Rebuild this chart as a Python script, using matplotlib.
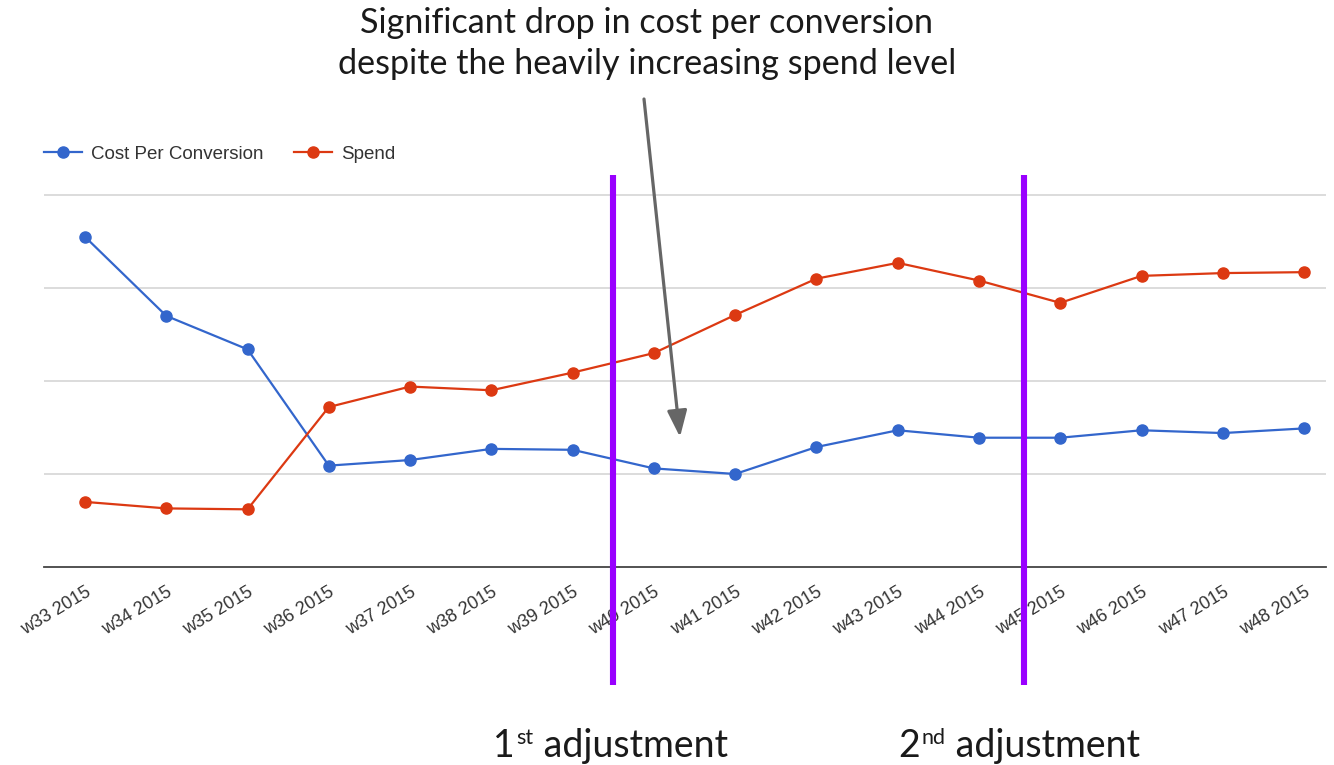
import matplotlib
matplotlib.use("Agg")
import matplotlib.pyplot as plt
import matplotlib.transforms as mtransforms

weeks = ["w33 2015", "w34 2015", "w35 2015", "w36 2015", "w37 2015", "w38 2015",
         "w39 2015", "w40 2015", "w41 2015", "w42 2015", "w43 2015", "w44 2015",
         "w45 2015", "w46 2015", "w47 2015", "w48 2015"]
cost_per_conversion = [35.5, 27.0, 23.4, 10.9, 11.5, 12.7, 12.6, 10.6,
                       10.0, 12.9, 14.7, 13.9, 13.9, 14.7, 14.4, 14.9]
spend = [7.0, 6.3, 6.2, 17.2, 19.4, 19.0, 20.9, 23.0,
         27.1, 31.0, 32.7, 30.8, 28.4, 31.3, 31.6, 31.7]
adjustments = [6.5, 11.55]
adjustment_ordinals = [("1", "st"), ("2", "nd")]
headline = "Significant drop in cost per conversion\ndespite the heavily increasing spend level"

W, H = 1334, 765
fig = plt.figure(figsize=(W / 100, H / 100), dpi=100)
ax = fig.add_axes([44 / W, 1 - 567 / H, (1326 - 44) / W, 373.9 / H])

x = list(range(len(weeks)))
blue, red = "#3366CC", "#DC3912"
ax.plot(x, cost_per_conversion, color=blue, lw=1.6, marker="o", ms=8,
        label="Cost Per Conversion", zorder=3)
ax.plot(x, spend, color=red, lw=1.6, marker="o", ms=8, label="Spend", zorder=3)

ax.set_xlim(-0.5045, 15.27)
ax.set_ylim(0, 40.2)
ax.set_yticks([10, 20, 30, 40])
ax.yaxis.grid(True, color="#d6d6d6", lw=1.2)
ax.tick_params(axis="y", length=0, labelleft=False)
for s in ["top", "right", "left"]:
    ax.spines[s].set_visible(False)
ax.spines["bottom"].set_color("#444444")
ax.spines["bottom"].set_linewidth(1.3)
ax.set_axisbelow(True)

ax.set_xticks(x)
ax.set_xticklabels(weeks, rotation=31, ha="right", va="top",
                   rotation_mode="anchor", fontsize=13,
                   family="Liberation Sans", color="#333333")
ax.tick_params(axis="x", length=0, pad=12)

leg = fig.legend(loc="center left", bbox_to_anchor=(44 / W, 1 - 154 / H),
                 ncol=2, frameon=False, borderpad=0, borderaxespad=0,
                 handlelength=2.0, handletextpad=0.5, columnspacing=1.65,
                 prop={"family": "Liberation Sans", "size": 13.5})
for t in leg.get_texts():
    t.set_color("#333333")

# vertical markers for the two campaign adjustments
trans = mtransforms.blended_transform_factory(ax.transData, fig.transFigure)
for a in adjustments:
    ax.plot([a, a], [1 - 175 / H, 1 - 685 / H], color="#9900FF", lw=4.4,
            transform=trans, clip_on=False, zorder=4, solid_capstyle="butt")

font = ["Lato", "DejaVu Sans"]
ink = "#1a1a1a"
fig.text(647 / W, 1 - 43.5 / H, headline, ha="center", va="center",
         fontsize=24.6, family=font, color=ink, linespacing=1.33)

ax.annotate("", xy=(680 / W, 1 - 437 / H), xycoords="figure fraction",
            xytext=(644 / W, 1 - 99 / H), textcoords="figure fraction",
            arrowprops=dict(arrowstyle="-|>,head_length=1.6,head_width=0.6",
                            color="#666666", lw=2.3, shrinkA=0, shrinkB=0,
                            mutation_scale=10))

# "1st adjustment" / "2nd adjustment" captions with superscript ordinals
for (num, suf), xpos in zip(adjustment_ordinals, [493, 898]):
    t1 = fig.text(xpos / W, 1 - 757 / H, num, ha="left", va="baseline",
                  fontsize=27, family=font, color=ink)
    sup = ax.annotate(suf, xy=(1, 1), xycoords=t1, xytext=(1.5, 0),
                      textcoords="offset points", ha="left", va="top",
                      fontsize=15.5, family=font, color=ink)
    ax.annotate(" adjustment", xy=(1, 0), xycoords=(sup, t1),
                ha="left", va="bottom", fontsize=27, family=font,
                color=ink, annotation_clip=False)

fig.savefig("out.png", dpi=100, facecolor="white")
